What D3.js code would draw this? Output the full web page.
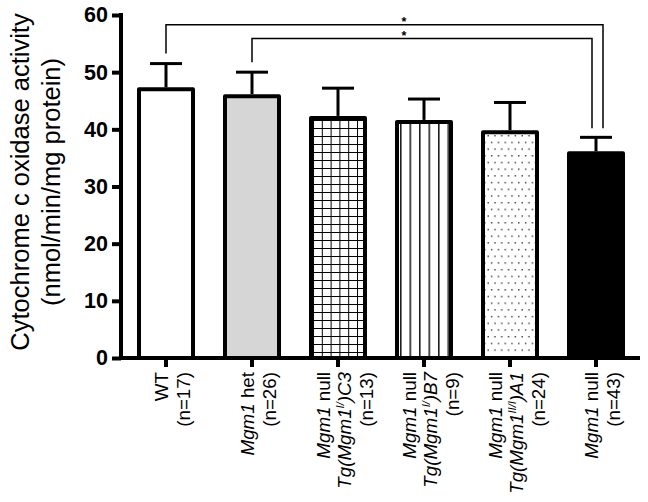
<!DOCTYPE html>
<html>
<head>
<meta charset="utf-8">
<script src="https://cdn.jsdelivr.net/npm/d3@7"></script>
<style>
  body { margin: 0; background: #fff; }
  text { font-family: Arial, 'Liberation Sans', sans-serif; }
</style>
</head>
<body>
<svg width="648" height="502"></svg>
<script>
// groups, mean activity and error (SEM)
var groups = ['WT', 'het', 'C3', 'B7', 'A1', 'null']
var means = [47.0, 45.8, 42.0, 41.3, 39.5, 35.8]
var errors = [4.5, 4.2, 5.2, 4.0, 5.2, 2.8]
var yTicks = [0, 10, 20, 30, 40, 50, 60]

// label lines: each line is a list of [text, style] pieces (i = italic, s = superscript)
var labels = [
  [[['WT', '']], [['(n=17)', '']]],
  [[['Mgm1', 'i'], [' het', '']], [['(n=26)', '']]],
  [[['Mgm1', 'i'], [' null', '']], [['Tg(Mgm1', 'i'], ['I/', 'si'], [')C3', 'i']], [['(n=13)', '']]],
  [[['Mgm1', 'i'], [' null', '']], [['Tg(Mgm1', 'i'], ['I/', 'si'], [')B7', 'i']], [['(n=9)', '']]],
  [[['Mgm1', 'i'], [' null', '']], [['Tg(Mgm1', 'i'], ['II/I', 'si'], [')A1', 'i']], [['(n=24)', '']]],
  [[['Mgm1', 'i'], [' null', '']], [['(n=43)', '']]]
]

// significance brackets: from group, to group, height of bracket line
var brackets = [
  { from: 'WT', to: 'null', level: 58.3 },
  { from: 'het', to: 'null', level: 55.9 }
]

var svg = d3.select('svg')

var y = d3.scaleLinear().domain([0, 60]).range([358, 15])
var x = d3.scaleBand()
  .domain(groups)
  .range([123, 639])
  .paddingInner(0.372)
  .paddingOuter(0.186)

// fill patterns
var defs = svg.append('defs')

var grid = defs.append('pattern')
  .attr('id', 'grid')
  .attr('patternUnits', 'userSpaceOnUse')
  .attr('width', 8.8).attr('height', 8)
  .attr('x', x('C3') + 2).attr('y', 0)
grid.append('rect').attr('width', 8.8).attr('height', 8).attr('fill', '#fff')
grid.append('line').attr('x1', 0).attr('x2', 0).attr('y1', 0).attr('y2', 8)
  .attr('stroke', '#000').attr('stroke-width', 2)
grid.append('line').attr('x1', 0).attr('x2', 8.8).attr('y1', 0).attr('y2', 0)
  .attr('stroke', '#000').attr('stroke-width', 2)

var vlines = defs.append('pattern')
  .attr('id', 'vlines')
  .attr('patternUnits', 'userSpaceOnUse')
  .attr('width', 9.5).attr('height', 10)
  .attr('x', x('B7') + 3).attr('y', 0)
vlines.append('rect').attr('width', 9.5).attr('height', 10).attr('fill', '#fff')
vlines.append('line').attr('x1', 0.8).attr('x2', 0.8).attr('y1', 0).attr('y2', 10)
  .attr('stroke', '#000').attr('stroke-width', 1.4)

var dots = defs.append('pattern')
  .attr('id', 'dots')
  .attr('patternUnits', 'userSpaceOnUse')
  .attr('width', 6.8).attr('height', 13.4)
  .attr('x', x('A1') + 4).attr('y', 0)
dots.append('rect').attr('width', 6.8).attr('height', 13.4).attr('fill', '#fff')
dots.append('rect').attr('x', 0.5).attr('y', 1).attr('width', 1.4).attr('height', 1.4).attr('fill', '#333')
dots.append('rect').attr('x', 3.9).attr('y', 7.7).attr('width', 1.4).attr('height', 1.4).attr('fill', '#333')

var fills = ['#fff', '#d6d6d6', 'url(#grid)', 'url(#vlines)', 'url(#dots)', '#000']

// bars
svg.selectAll('.bar')
  .data(groups)
  .enter()
  .append('rect')
  .attr('class', 'bar')
  .attr('x', d => x(d))
  .attr('y', (d, i) => y(means[i]))
  .attr('width', x.bandwidth())
  .attr('height', (d, i) => y(0) - y(means[i]))
  .attr('fill', (d, i) => fills[i])
  .attr('stroke', '#000')
  .attr('stroke-width', 4)
  .attr('stroke-linejoin', 'round')

// error bars (upper only)
var err = svg.selectAll('.err')
  .data(groups)
  .enter()
  .append('g')
  .attr('class', 'err')
err.append('line')
  .attr('x1', d => x(d) + x.bandwidth() / 2)
  .attr('x2', d => x(d) + x.bandwidth() / 2)
  .attr('y1', (d, i) => y(means[i]) - 2)
  .attr('y2', (d, i) => y(means[i] + errors[i]))
  .attr('stroke', '#000').attr('stroke-width', 3)
err.append('line')
  .attr('x1', d => x(d) + x.bandwidth() / 2 - 16)
  .attr('x2', d => x(d) + x.bandwidth() / 2 + 16)
  .attr('y1', (d, i) => y(means[i] + errors[i]))
  .attr('y2', (d, i) => y(means[i] + errors[i]))
  .attr('stroke', '#000').attr('stroke-width', 3)

// y axis
var yAxis = svg.append('g')
  .attr('transform', 'translate(121,0)')
  .call(d3.axisLeft(y).tickValues(yTicks).tickSize(9).tickPadding(4))
yAxis.select('.domain').attr('stroke-width', 4).attr('d', 'M0,13V358')
yAxis.selectAll('.tick line').attr('stroke-width', 4)
yAxis.selectAll('.tick text')
  .attr('font-size', 21.5).attr('font-weight', 'bold').attr('fill', '#000')
  .attr('font-family', 'Arial, Liberation Sans, sans-serif')

// x axis
var xAxis = svg.append('g')
  .attr('transform', 'translate(0,358)')
  .call(d3.axisBottom(x).tickSize(9).tickFormat(''))
xAxis.select('.domain').attr('stroke-width', 4).attr('d', 'M119,0H640')
xAxis.selectAll('.tick line').attr('stroke-width', 4)

// x labels, rotated, end anchored at the top
labels.forEach(function(lines, gi) {
  var cx = x(groups[gi]) + x.bandwidth() / 2
  var n = lines.length
  var first = cx + 12.5 - (n - 1) * 10.5
  lines.forEach(function(pieces, li) {
    var t = svg.append('text')
      .attr('transform', 'translate(' + (first + li * 21.5) + ',372) rotate(-90)')
      .attr('text-anchor', 'end')
      .attr('font-size', 18.8)
      .attr('fill', '#000')
    pieces.forEach(function(p, k) {
      var s = t.append('tspan').text(p[0])
      if (p[1].indexOf('i') >= 0) s.attr('font-style', 'italic')
      if (p[1].indexOf('s') >= 0) s.attr('font-size', 11).attr('dy', -7)
      else if (k > 0 && pieces[k - 1][1].indexOf('s') >= 0) s.attr('dy', 7)
    })
  })
})

// y axis title
var yTitle = svg.append('text')
  .attr('transform', 'translate(29,182) rotate(-90)')
  .attr('text-anchor', 'middle')
  .attr('font-size', 25.5)
  .attr('fill', '#000')
yTitle.append('tspan').attr('x', 0).attr('dy', 0).text('Cytochrome c oxidase activity')
yTitle.append('tspan').attr('x', 0).attr('dy', 31).text('(nmol/min/mg protein)')

// significance brackets
brackets.forEach(function(b) {
  var gFrom = groups.indexOf(b.from)
  var gTo = groups.indexOf(b.to)
  var x1 = x(b.from) + x.bandwidth() / 2
  var x2 = x(b.to) + x.bandwidth() / 2 + (b.from === 'WT' ? 7 : -4)
  var yL = y(b.level)
  var y1 = y(means[gFrom] + errors[gFrom]) - 10
  var y2 = y(means[gTo] + errors[gTo]) - 9
  svg.append('path')
    .attr('d', 'M' + x1 + ',' + y1 + 'V' + yL + 'H' + x2 + 'V' + y2)
    .attr('fill', 'none')
    .attr('stroke', '#000')
    .attr('stroke-width', 1.5)
  svg.append('text')
    .attr('x', 404)
    .attr('y', yL + 1.5)
    .attr('text-anchor', 'middle')
    .attr('font-size', 12.5)
    .attr('font-weight', 'bold')
    .attr('fill', '#000')
    .text('*')
})
</script>
</body>
</html>
